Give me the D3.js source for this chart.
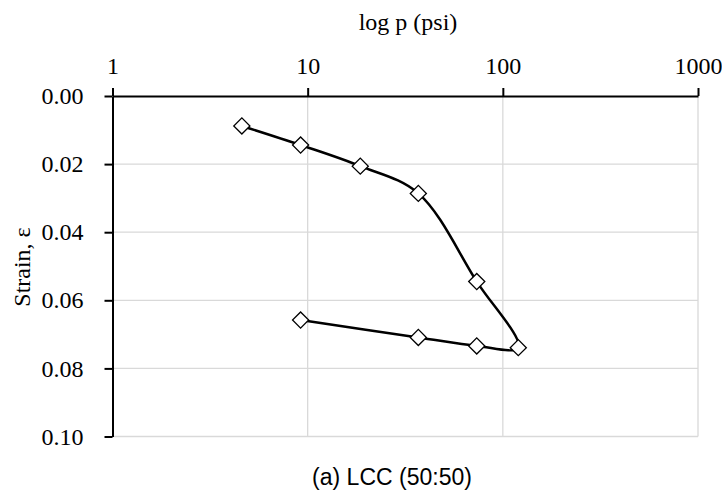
<!DOCTYPE html>
<html>
<head>
<meta charset="utf-8">
<script src="https://cdn.jsdelivr.net/npm/d3@7"></script>
<style>
  html, body { margin: 0; padding: 0; background: #fff; }
  svg { display: block; }
</style>
</head>
<body>
<svg id="chart" width="722" height="492"></svg>
<script>
// Consolidation test: loading then unloading path, one continuous series
const pressure = [4.6, 9.2, 18.6, 36.9, 73.5, 120, 73.5, 36.9, 9.2];          // psi
const strain   = [0.0088, 0.0144, 0.0206, 0.0286, 0.0545, 0.0739, 0.0734, 0.0709, 0.0658];
const xTicks = [1, 10, 100, 1000];
const yTicks = [0.00, 0.02, 0.04, 0.06, 0.08, 0.10];
const xTitle = "log p (psi)";
const yTitle = "Strain, ε";
const caption = "(a) LCC (50:50)";

const svg = d3.select("#chart");
const plot = { left: 112.5, right: 698, top: 96, bottom: 436.5 };

const x = d3.scaleLog().domain([1, 1000]).range([plot.left, plot.right]);
const y = d3.scaleLinear().domain([0, 0.10]).range([plot.top, plot.bottom]);

const serif = "'Liberation Serif', 'Times New Roman', serif";
const sans = "'Liberation Sans', Arial, sans-serif";

// gridlines
const grid = svg.append("g").attr("stroke", "#d9d9d9").attr("stroke-width", 1.3);
grid.selectAll("line.v").data(xTicks.slice(1)).join("line").attr("class", "v")
  .attr("x1", d => x(d)).attr("x2", d => x(d))
  .attr("y1", plot.top).attr("y2", plot.bottom);
grid.selectAll("line.h").data(yTicks.slice(1)).join("line").attr("class", "h")
  .attr("x1", plot.left).attr("x2", plot.right)
  .attr("y1", d => y(d)).attr("y2", d => y(d));

// top x axis
const xAxis = d3.axisTop(x).tickValues(xTicks).tickFormat(d3.format("d"))
  .tickSizeInner(8).tickSizeOuter(0).tickPadding(14);
const gx = svg.append("g").attr("transform", `translate(0,${plot.top})`).call(xAxis);
gx.select(".domain").attr("stroke", "#000").attr("stroke-width", 2);
gx.selectAll(".tick line").attr("stroke", "#000").attr("stroke-width", 2);
gx.selectAll(".tick text").attr("font-family", serif).attr("font-size", 24).attr("fill", "#000");

// left y axis
const yAxis = d3.axisLeft(y).tickValues(yTicks).tickFormat(d3.format(".2f"))
  .tickSizeInner(8).tickSizeOuter(0).tickPadding(21);
const gy = svg.append("g").attr("transform", `translate(${plot.left},0)`).call(yAxis);
gy.select(".domain").attr("stroke", "#000").attr("stroke-width", 2);
gy.selectAll(".tick line").attr("stroke", "#000").attr("stroke-width", 2);
gy.selectAll(".tick text").attr("font-family", serif).attr("font-size", 24).attr("fill", "#000");

// titles
svg.append("text").attr("x", 408).attr("y", 30).attr("text-anchor", "middle")
  .attr("font-family", serif).attr("font-size", 24).text(xTitle);
svg.append("text").attr("transform", "translate(30,267) rotate(-90)").attr("text-anchor", "middle")
  .attr("font-family", serif).attr("font-size", 24).text(yTitle);
svg.append("text").attr("x", 392).attr("y", 485).attr("text-anchor", "middle")
  .attr("font-family", sans).attr("font-size", 23).text(caption);

// smoothed series line
const pts = pressure.map((p, i) => [p, strain[i]]);
const line = d3.line().x(d => x(d[0])).y(d => y(d[1])).curve(d3.curveCatmullRom.alpha(0.5));
svg.append("path").attr("d", line(pts)).attr("fill", "none")
  .attr("stroke", "#000").attr("stroke-width", 2.5).attr("stroke-linejoin", "round");

// diamond markers
const sym = d3.symbol().type(d3.symbolSquare).size(130);
svg.selectAll("path.marker").data(pts).join("path").attr("class", "marker")
  .attr("transform", d => `translate(${x(d[0])},${y(d[1])}) rotate(45)`)
  .attr("d", sym).attr("fill", "#fff").attr("stroke", "#000").attr("stroke-width", 1.3);
</script>
</body>
</html>
